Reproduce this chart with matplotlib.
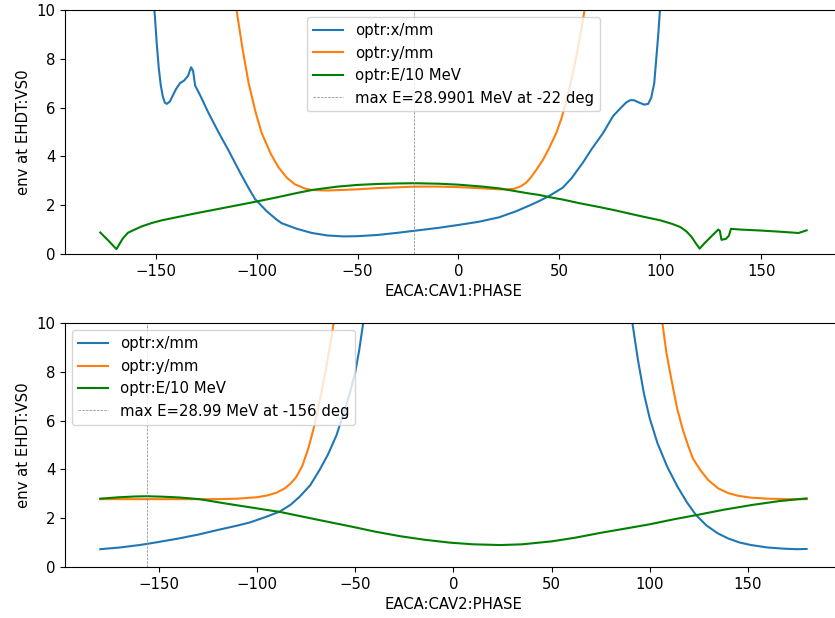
import matplotlib.pyplot as plt
import numpy as np

plt.rcParams['font.size'] = 10.7

# CAV1 scan (top)
phase1_x = [-177.5, -155, -152, -150.5, -149.5, -148.5, -147.5, -146.5, -145.5, -144.5, -143, -141.5,
            -140, -138, -136, -134, -132.5, -131.5, -130.5, -128, -124, -119, -114, -108, -104,
            -100.8, -95, -90, -87.6, -80, -72.6, -65, -57, -50, -40, -30, -22, -10, 0, 10, 20,
            28.5, 35, 40, 45, 51.7, 56, 61.7, 66, 71.6, 76.6, 80, 83, 85, 87, 89, 92, 94, 95.5,
            97, 98, 99, 100, 101, 105, 172.5]
env1_x = [25, 14, 11.0, 9.8, 8.6, 7.6, 6.9, 6.45, 6.2, 6.15, 6.25, 6.5,
          6.75, 7.0, 7.1, 7.3, 7.65, 7.5, 6.9, 6.5, 5.8, 5.0, 4.25, 3.3, 2.7,
          2.25, 1.75, 1.4, 1.26, 1.03, 0.86, 0.76, 0.72, 0.73, 0.78, 0.87, 0.95, 1.07, 1.19,
          1.32, 1.5, 1.75, 1.98, 2.17, 2.38, 2.72, 3.1, 3.75, 4.3, 4.95, 5.65, 5.95, 6.2, 6.3,
          6.3, 6.22, 6.12, 6.15, 6.4, 7.0, 8.0, 9.0, 10.2, 12, 20, 60]

phase1_y = [-177.5, -115, -112, -110, -107, -104, -100.5, -97.5, -93, -89.2, -85, -81, -76, -72.6,
            -65, -50, -40, -22, -10, 0, 11.9, 20, 25, 28, 31, 33.5, 36, 39, 41.8, 45, 48.4, 51,
            53.4, 56, 58.4, 60.5, 62.5, 65, 70, 172.5]
env1_y = [40, 14, 11.5, 10.0, 8.4, 7.0, 5.8, 4.95, 4.1, 3.55, 3.12, 2.85, 2.68, 2.62,
          2.6, 2.65, 2.7, 2.76, 2.76, 2.74, 2.69, 2.65, 2.65, 2.68, 2.78, 2.92, 3.15, 3.5,
          3.85, 4.35, 4.95, 5.55, 6.25, 7.15, 8.1, 9.05, 10.0, 11.5, 15, 60]

phase1_e = [-177.5, -173.5, -169.5, -166.3, -163.8, -161, -157, -152, -147, -140, -130, -120, -110,
            -100, -90, -80, -72, -60, -50, -40, -30, -22, -10, 0, 12, 20, 25, 30, 35, 40, 45, 51.7,
            60, 70, 77, 85, 92, 100, 106, 110, 113, 115.5, 117.5, 119.5, 122, 126, 128.7, 129.5,
            130.3, 132.5, 134, 135, 140, 150, 160, 168.5, 172.5]
env1_e = [0.88, 0.55, 0.2, 0.64, 0.87, 0.98, 1.13, 1.27, 1.38, 1.5, 1.67, 1.83, 1.99,
          2.15, 2.32, 2.5, 2.63, 2.76, 2.83, 2.87, 2.89, 2.899, 2.88, 2.84, 2.76, 2.69, 2.62,
          2.55, 2.48, 2.42, 2.33, 2.23, 2.08, 1.92, 1.8, 1.65, 1.52, 1.38, 1.23, 1.1, 0.92,
          0.7, 0.45, 0.22, 0.45, 0.78, 1.0, 0.95, 0.58, 0.62, 0.75, 1.03, 1.0, 0.96, 0.91,
          0.86, 0.97]

# CAV2 scan (bottom)
phase2_x = [-180, -170, -160, -156, -150, -140, -130, -120, -110, -104, -100, -95, -88.6, -83,
            -78.4, -73, -68.2, -64, -59.6, -56, -52.8, -50, -48, -46, -44, 89, 91.2, 94, 97.1,
            100, 104, 109, 114.2, 119, 123.6, 129, 134.7, 140, 146, 151.7, 160, 168.7, 175, 180]
env2_x = [0.73, 0.8, 0.9, 0.95, 1.03, 1.17, 1.33, 1.52, 1.7, 1.82, 1.93, 2.07, 2.27, 2.55,
          2.88, 3.35, 3.98, 4.6, 5.4, 6.3, 7.12, 8.0, 8.9, 10.0, 11.5, 11.5, 10.0, 8.5, 7.1,
          6.1, 5.07, 4.1, 3.29, 2.65, 2.13, 1.7, 1.38, 1.17, 1.0, 0.9, 0.8, 0.75, 0.73, 0.74]

phase2_y = [-180, -160, -140, -120, -110, -100, -95, -90, -86, -83, -80, -77, -74, -71, -68, -65,
            -62, -60, 104, 106.5, 108.5, 110.8, 114, 117, 119.5, 122, 126, 130, 135, 140, 145,
            151.7, 160, 170, 180]
env2_y = [2.78, 2.78, 2.78, 2.78, 2.8, 2.86, 2.93, 3.05, 3.22, 3.42, 3.7, 4.15, 4.85, 5.75,
          6.85, 8.1, 9.5, 10.6, 11.5, 10.0, 8.8, 7.8, 6.5, 5.6, 5.0, 4.45, 3.95, 3.55, 3.22,
          3.03, 2.92, 2.84, 2.8, 2.78, 2.78]

phase2_e = [-180, -170, -162, -156, -148, -140, -129.5, -116, -104, -88, -70, -52.8, -40, -27,
            -15, -2, 10, 24, 35, 50, 62, 75, 88, 100, 112, 124, 138, 152, 166, 180]
env2_e = [2.8, 2.86, 2.89, 2.899, 2.88, 2.85, 2.78, 2.6, 2.45, 2.25, 1.95, 1.67, 1.45, 1.26,
          1.12, 1.0, 0.93, 0.9, 0.93, 1.05, 1.2, 1.4, 1.58, 1.75, 1.95, 2.13, 2.35, 2.54, 2.7, 2.81]

scans = [
    (phase1_x, env1_x, phase1_y, env1_y, phase1_e, env1_e, -22,
     'max E=28.9901 MeV at -22 deg', 'EACA:CAV1:PHASE', 'upper center'),
    (phase2_x, env2_x, phase2_y, env2_y, phase2_e, env2_e, -156,
     'max E=28.99 MeV at -156 deg', 'EACA:CAV2:PHASE', 'upper left'),
]

fig = plt.figure(figsize=(8.35, 6.18), dpi=100)
positions = [[0.0778, 0.589, 0.9305, 0.395], [0.0778, 0.0825, 0.9305, 0.395]]

for pos, (px, ex, py, ey, pe, ee, peak, peak_label, xlabel, loc) in zip(positions, scans):
    ax = fig.add_axes(pos)
    ax.plot(px, ex, label='optr:x/mm')
    ax.plot(py, ey, label='optr:y/mm')
    ax.plot(pe, ee, color='g', label='optr:E/10 MeV')
    ax.axvline(peak, color='gray', linestyle='--', linewidth=0.5, label=peak_label)
    ax.set_ylim(0, 10)
    ax.set_xlabel(xlabel)
    ax.set_ylabel('env at EHDT:VS0')
    ax.legend(loc=loc)

fig.savefig('out.png', dpi=100)
